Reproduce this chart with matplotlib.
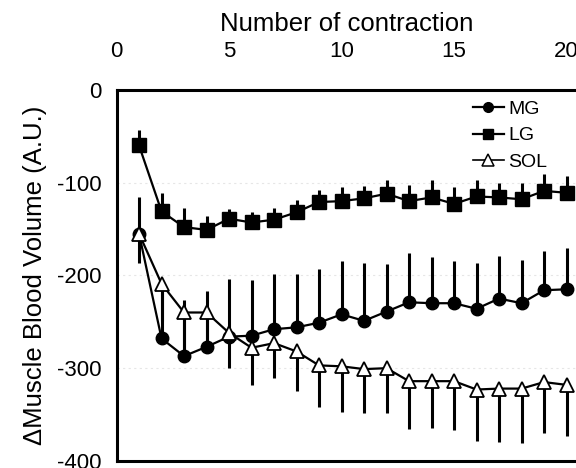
import numpy as np
import matplotlib
matplotlib.use("Agg")
import matplotlib.pyplot as plt
from matplotlib.lines import Line2D

plt.rcParams["font.family"] = ["Liberation Sans", "DejaVu Sans"]
plt.rcParams["axes.unicode_minus"] = False

# données
contraction = list(range(1, 21))

mg = [-155, -268, -287, -277, -266, -265, -258, -256, -251, -242,
      -249, -239, -229, -230, -230, -236, -225, -230, -216, -215]
mg_err = [39, 50, 60, 60, 62, 60, 60, 57, 58, 57,
          62, 51, 53, 50, 46, 49, 46, 47, 42, 44]

lg = [-60, -131, -148, -151, -139, -143, -140, -132, -121, -120,
      -117, -112, -120, -116, -123, -115, -116, -118, -109, -111]
lg_err = [17, 20, 21, 15, 10, 11, 13, 13, 13, 15,
          13, 15, 17, 19, 18, 18, 15, 18, 18, 18]

sol = [-155, -209, -240, -240, -262, -278, -273, -282, -297, -298,
       -301, -300, -314, -314, -314, -323, -322, -322, -315, -318]
sol_err = [32, 40, 45, 40, 38, 40, 38, 43, 45, 49,
           47, 48, 52, 51, 53, 56, 58, 59, 55, 55]

zeros = [0] * len(contraction)

fig = plt.figure(figsize=(5.76, 4.68), dpi=100)
ax = fig.add_axes([0.2023, 0.015, 0.7977, 0.7932])

# MG : barres vers le haut
ax.errorbar(contraction, mg, yerr=[zeros, mg_err], fmt="-o", color="black",
            ms=9, lw=1.6, elinewidth=2.2, capsize=0, zorder=3)
# LG : barres vers le haut
ax.errorbar(contraction, lg, yerr=[zeros, lg_err], fmt="-s", color="black",
            ms=9.5, lw=1.6, elinewidth=2.2, capsize=0, zorder=3)
# SOL : barres vers le bas, triangles blancs
ax.errorbar(contraction, sol, yerr=[sol_err, zeros], fmt="-^", color="black",
            mfc="white", mec="black", mew=1.3, ms=10.5, lw=1.6,
            elinewidth=2.2, capsize=0, zorder=4)

ax.set_xlim(0, 20.42)
ax.set_ylim(-400, 0)
ax.xaxis.tick_top()
ax.xaxis.set_label_position("top")
ax.set_xticks([0, 5, 10, 15, 20])
ax.set_yticks([0, -100, -200, -300, -400])
ax.tick_params(axis="x", length=0, pad=20, labelsize=16)
ax.tick_params(axis="y", length=0, pad=11, labelsize=16)
ax.set_xlabel("Number of contraction", fontsize=18.5, labelpad=7)
ax.set_ylabel("ΔMuscle Blood Volume (A.U.)", fontsize=18.5, labelpad=7)

for side in ["top", "left", "bottom"]:
    ax.spines[side].set_linewidth(2.2)
ax.spines["right"].set_visible(False)

# quadrillage très pâle
ax.yaxis.grid(True, linestyle=(0, (2, 3)), color="#e6e6e6", lw=0.8)
ax.set_axisbelow(True)

handles = [
    Line2D([], [], color="black", marker="o", ms=7, lw=1.6),
    Line2D([], [], color="black", marker="s", ms=7, lw=1.6),
    Line2D([], [], color="black", marker="^", ms=8, lw=1.2,
           mfc="white", mec="black", mew=1.1),
]
ax.legend(handles, ["MG", "LG", "SOL"], loc="upper right",
          bbox_to_anchor=(0.96, 1.0), frameon=False, fontsize=14,
          handlelength=1.6, handletextpad=0.2, labelspacing=0.45,
          borderaxespad=0.15)

fig.savefig("out.png", dpi=100)
